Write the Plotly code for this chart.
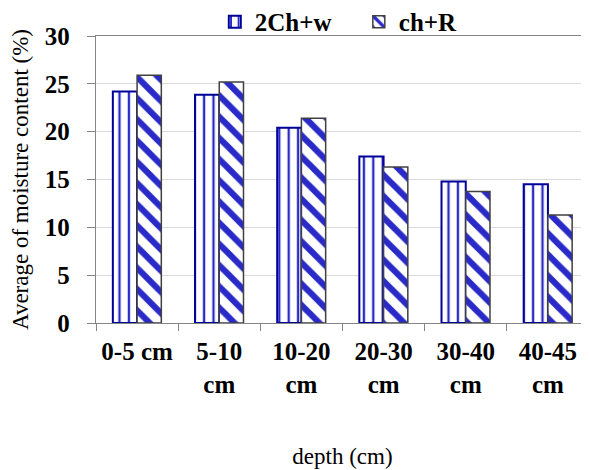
import plotly.graph_objects as go

categories = ["0-5 cm", "5-10<br>cm", "10-20<br>cm", "20-30<br>cm", "30-40<br>cm", "40-45<br>cm"]
series_names = ["2Ch+w", "ch+R"]
vals_2ch_w = [24.2, 23.85, 20.4, 17.4, 14.8, 14.5]
vals_ch_r = [25.9, 25.2, 21.4, 16.3, 13.75, 11.3]
y_ticks = [0, 5, 10, 15, 20, 25, 30]

FONT = "Liberation Serif"

fig = go.Figure()
fig.add_trace(go.Bar(
    name=series_names[0], x=categories, y=vals_2ch_w,
    marker=dict(color="white",
                line=dict(color="#000099", width=2),
                pattern=dict(shape="|", fgcolor="#2a2ac8", bgcolor="white",
                             size=9.4, solidity=0.25, fillmode="replace")),
))
fig.add_trace(go.Bar(
    name=series_names[1], x=categories, y=vals_ch_r,
    marker=dict(color="white",
                line=dict(color="#404040", width=1.5),
                pattern=dict(shape="\\", fgcolor="#2a2ac8", bgcolor="white",
                             size=15, solidity=0.42, fillmode="replace")),
))

fig.update_layout(
    width=581, height=462,
    margin=dict(l=88, r=0, t=28, b=147, autoexpand=False),
    paper_bgcolor="white", plot_bgcolor="white",
    barmode="group", bargap=0.41, bargroupgap=0,
    font=dict(family=FONT, color="black"),
    showlegend=True,
    legend=dict(orientation="h", x=0.241, xanchor="left", y=1.049, yanchor="middle",
                font=dict(family=FONT, size=25, color="black", weight="bold"),
                bgcolor="rgba(0,0,0,0)", entrywidth=99, itemwidth=30,
                tracegroupgap=0),
    xaxis=dict(
        showline=True, linecolor="#868686", linewidth=1.3, mirror=True,
        ticks="outside", tickson="boundaries", ticklen=7, tickcolor="#868686",
        ticklabelstandoff=6,
        tickfont=dict(family=FONT, size=25, color="black", weight="bold"),
        tickangle=0,
        title=dict(text="depth (cm)", font=dict(family=FONT, size=23, color="black"), standoff=51),
        automargin=False,
    ),
    yaxis=dict(
        range=[0, 30], tickvals=y_ticks, ticktext=[str(v) for v in y_ticks],
        showgrid=True, gridcolor="#d9d9d9", gridwidth=1.3,
        showline=True, linecolor="#868686", linewidth=1.3,
        ticks="outside", ticklen=8, tickcolor="#868686",
        ticklabelstandoff=12,
        tickfont=dict(family=FONT, size=25, color="black", weight="bold"),
        title=dict(text="Average of moisture content (%)", font=dict(family=FONT, size=23, color="black"), standoff=15),
        zeroline=False, automargin=False,
    ),
)

fig.write_html("out.html")
